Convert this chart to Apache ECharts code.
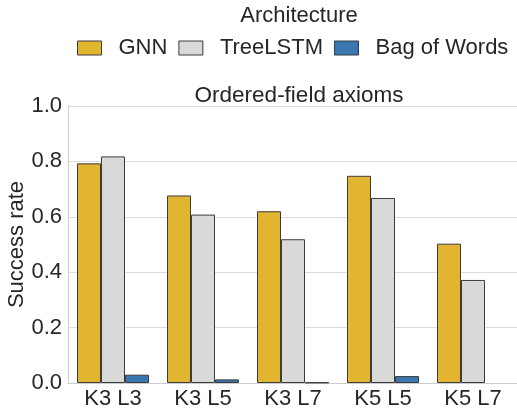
<!DOCTYPE html>
<html>
<head>
<meta charset="utf-8">
<script src="https://cdn.jsdelivr.net/npm/echarts@6/dist/echarts.min.js"></script>
<style>
  html, body { margin: 0; padding: 0; background: #fff; }
  #chart { width: 517px; height: 409px; }
</style>
</head>
<body>
<div id="chart"></div>
<script>
// data
var categories = ['K3 L3', 'K3 L5', 'K3 L7', 'K5 L5', 'K5 L7']
var gnn = [0.793, 0.677, 0.620, 0.748, 0.503]
var treeLstm = [0.818, 0.608, 0.519, 0.668, 0.372]
var bagOfWords = [0.030, 0.013, 0.002, 0.025, null]
var yTicks = [0, 0.2, 0.4, 0.6, 0.8, 1.0]

var font = "'Liberation Sans', Arial, sans-serif"
var textColor = '#262626'

function bar(name, data, color) {
  return {
    name: name,
    type: 'bar',
    data: data,
    barGap: 0,
    barCategoryGap: '20%',
    itemStyle: {
      color: color,
      borderColor: '#3c3c3c',
      borderWidth: 1
    }
  }
}

var chart = echarts.init(document.getElementById('chart'))
chart.setOption({
  backgroundColor: '#fff',
  animation: false,
  textStyle: { fontFamily: font, color: textColor },
  title: [{
    text: 'Architecture',
    left: 294,
    top: 0,
    textAlign: 'center',
    textStyle: { fontFamily: font, fontSize: 22, fontWeight: 'normal', color: textColor }
  }, {
    text: 'Ordered-field axioms',
    left: 294,
    top: 79,
    textAlign: 'center',
    textStyle: { fontFamily: font, fontSize: 22.5, fontWeight: 'normal', color: textColor }
  }],
  legend: {
    left: 77,
    top: 37,
    width: 440,
    padding: 0,
    itemWidth: 24,
    itemHeight: 14,
    itemGap: 11,
    icon: 'rect',
    data: ['GNN', 'TreeLSTM', 'Bag of Words'],
    itemStyle: { borderColor: '#3c3c3c', borderWidth: 1 },
    textStyle: { fontFamily: font, fontSize: 22, color: textColor, padding: [0, 0, 0, 12] }
  },
  grid: {
    left: 68,
    top: 106,
    width: 450,
    height: 277,
    containLabel: false,
    outerBoundsMode: 'none'
  },
  xAxis: {
    type: 'category',
    data: categories,
    axisLine: { lineStyle: { color: '#cccccc', width: 1 } },
    axisTick: { show: false },
    axisLabel: { fontFamily: font, fontSize: 22, color: textColor, margin: 5 }
  },
  yAxis: {
    type: 'value',
    min: yTicks[0],
    max: yTicks[yTicks.length - 1],
    interval: 0.2,
    name: 'Success rate',
    nameLocation: 'middle',
    nameGap: 40,
    nameMoveOverlap: false,
    nameTextStyle: { fontFamily: font, fontSize: 22, color: textColor },
    axisLine: { show: true, lineStyle: { color: '#cccccc', width: 1 } },
    axisTick: { show: false },
    axisLabel: {
      fontFamily: font,
      fontSize: 22,
      color: textColor,
      margin: 6,
      formatter: function (v) { return v.toFixed(1) }
    },
    splitLine: { lineStyle: { color: '#dcdcdc', width: 1 } }
  },
  series: [
    bar('GNN', gnn, '#e1b52f'),
    bar('TreeLSTM', treeLstm, '#d8dad7'),
    bar('Bag of Words', bagOfWords, '#3a76af')
  ]
})
</script>
</body>
</html>
